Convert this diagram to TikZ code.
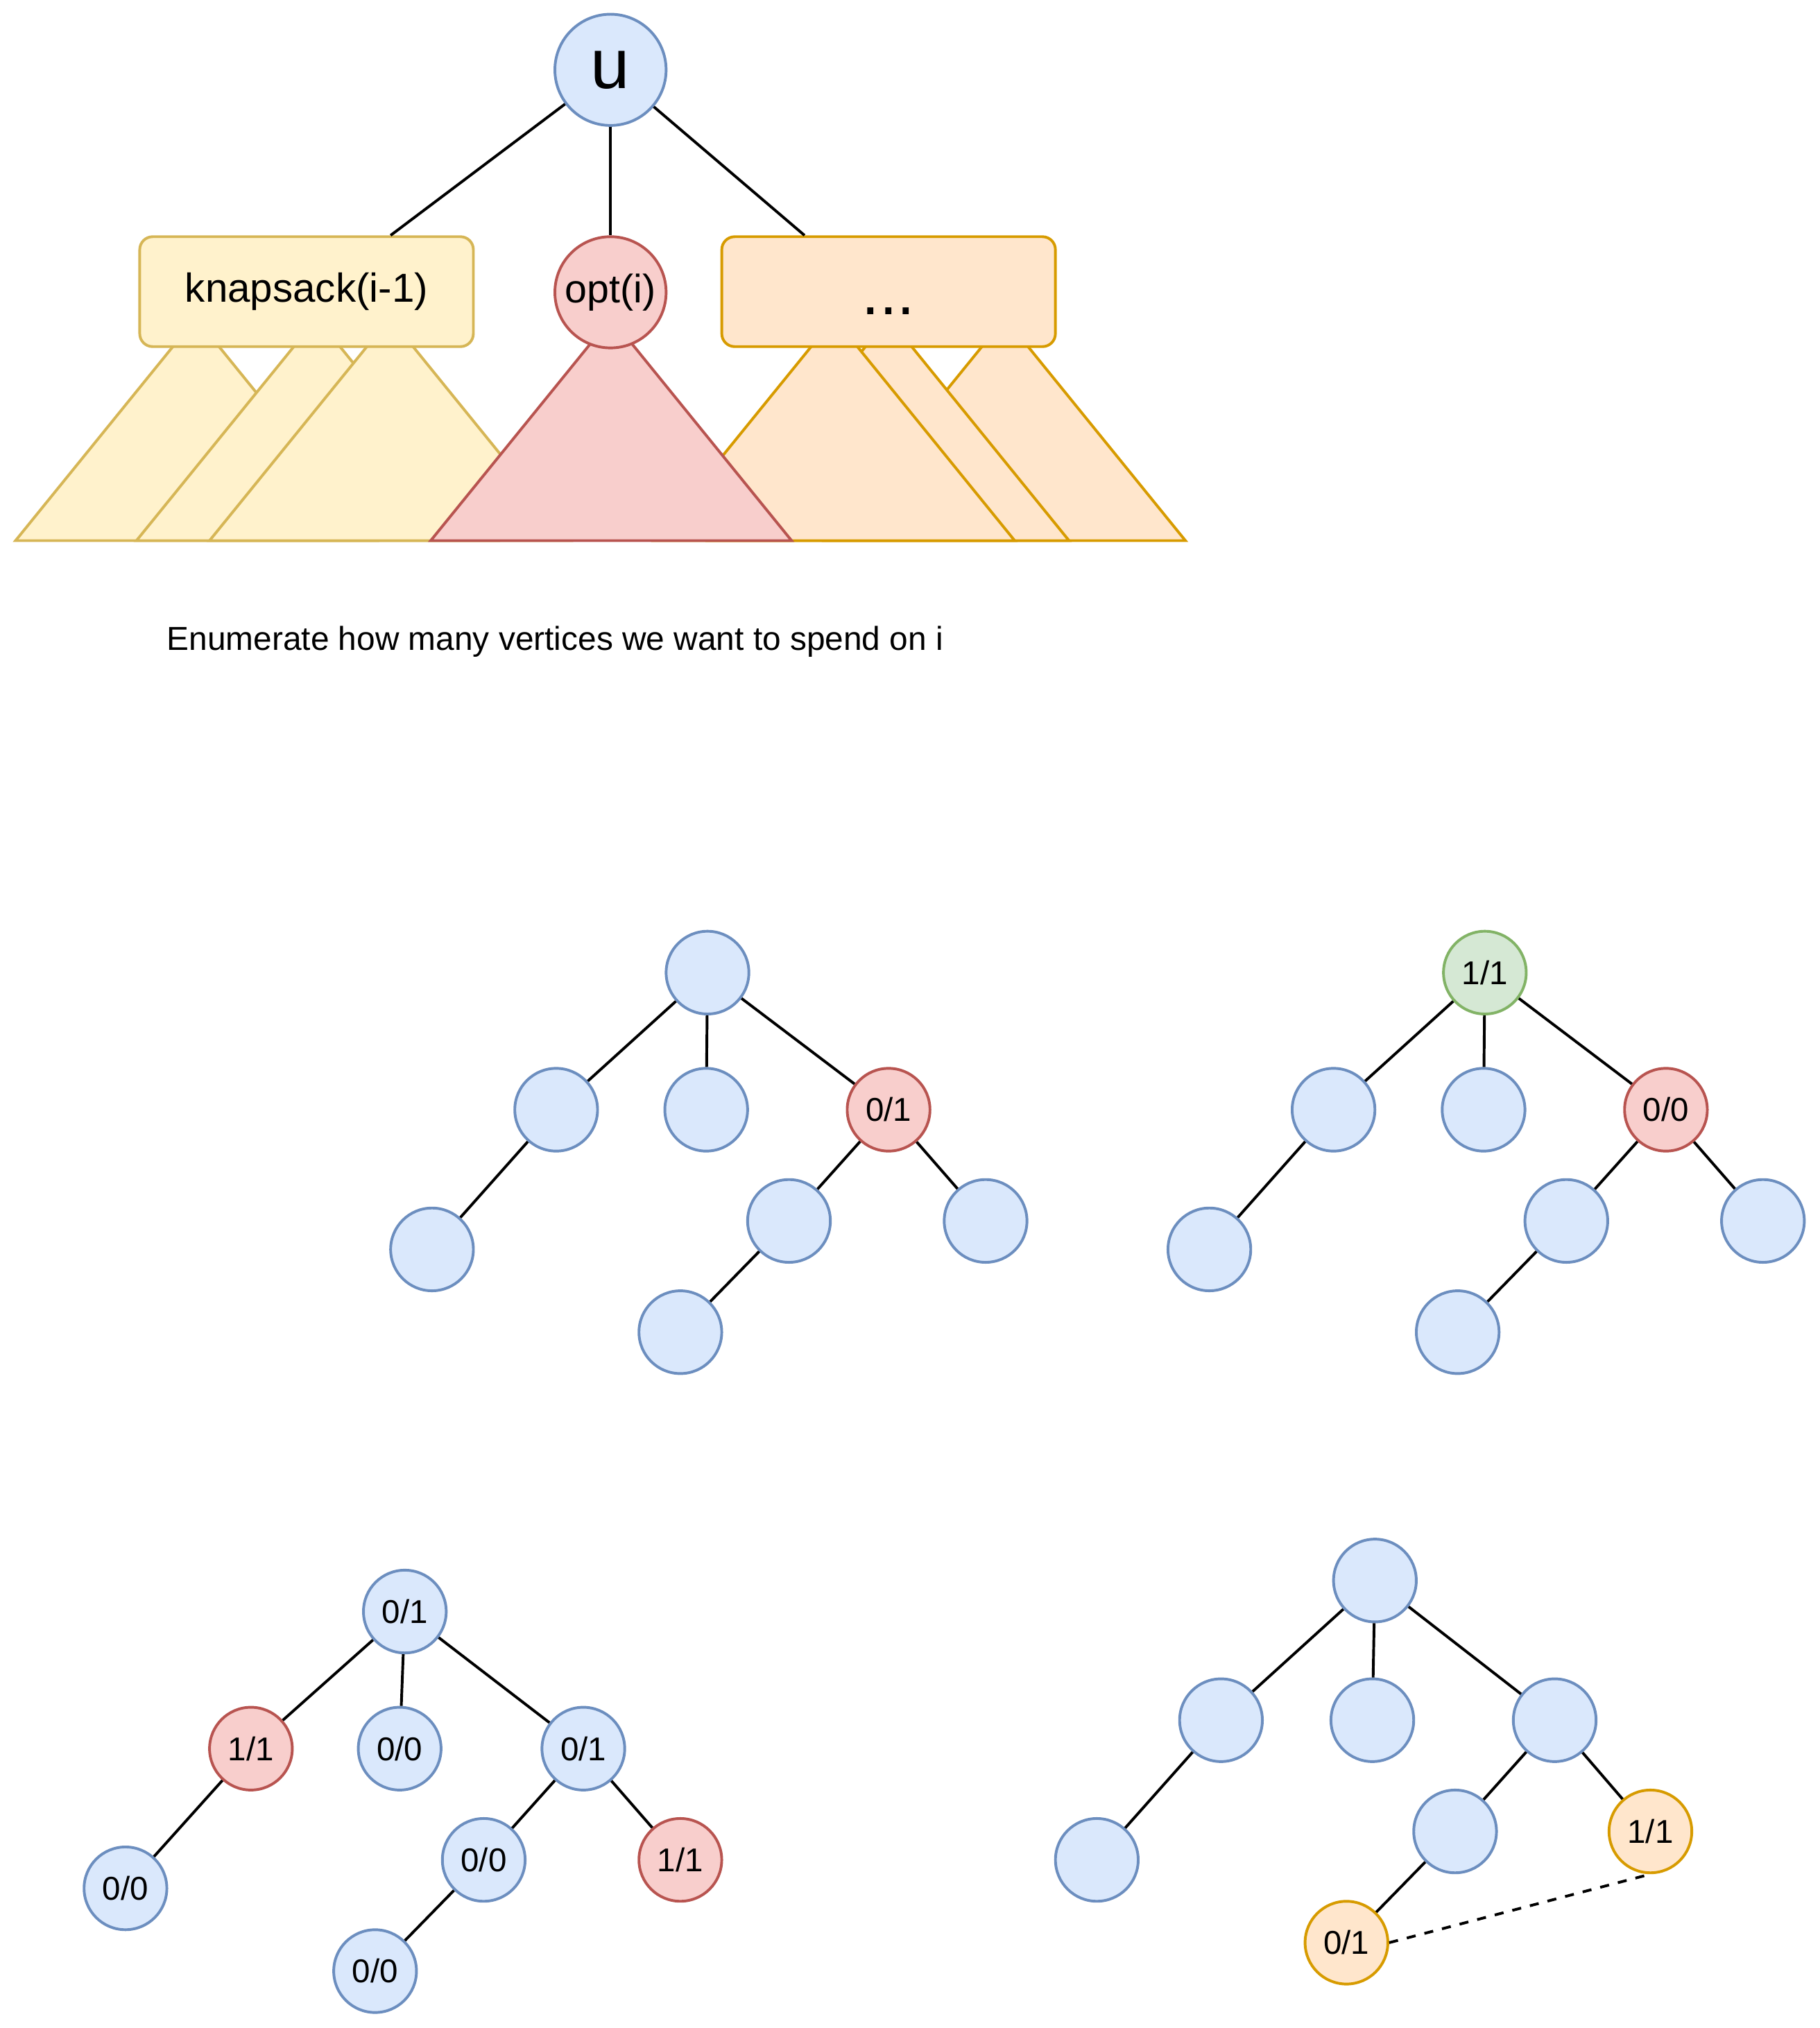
\documentclass[tikz,border=0pt]{standalone}
\usepackage{fontspec}
\setmainfont{Liberation Sans}
\usetikzlibrary{calc,positioning}
\definecolor{bfill}{HTML}{DAE8FC}
\definecolor{bline}{HTML}{6C8EBF}
\definecolor{rfill}{HTML}{F8CECC}
\definecolor{rline}{HTML}{B85450}
\definecolor{gfill}{HTML}{D5E8D4}
\definecolor{gline}{HTML}{82B366}
\definecolor{yfill}{HTML}{FFF2CC}
\definecolor{yline}{HTML}{D6B656}
\definecolor{ofill}{HTML}{FFE6CC}
\definecolor{oline}{HTML}{D79B00}

\begin{document}
\begin{tikzpicture}[x=0.02cm, y=-0.02cm, line width=1.2pt, lbl/.style={inner sep=0pt, font=\fontsize{14.6}{17}\selectfont}]
\useasboundingbox (0,0) rectangle (1407,1568);
\tikzstyle{vtx}=[circle, draw=bline, fill=bfill, minimum size=1.28cm, inner sep=0pt, font=\fontsize{14.5}{17}\selectfont]
\tikzstyle{rvtx}=[vtx, draw=rline, fill=rfill]
\tikzstyle{gvtx}=[vtx, draw=gline, fill=gfill]
\tikzstyle{ovtx}=[vtx, draw=oline, fill=ofill]
\tikzstyle{sub}=[rounded corners=0.2cm, minimum width=5.16cm, minimum height=1.7cm, inner sep=0pt]
\tikzstyle{ytri}=[draw=yline, fill=yfill]
\tikzstyle{otri}=[draw=oline, fill=ofill]
\tikzstyle{rtri}=[draw=rline, fill=rfill]

% subtrees under u
\foreach \x in {151.5,245,301.5}{
\draw[ytri] (\x,246) -- ++(-139.5,172) -- ++(279,0) -- cycle;
}
\foreach \x in {777,687,645}{
\draw[otri] (\x,246) -- ++(-139.5,172) -- ++(279,0) -- cycle;
}
\draw[rtri] (472.5,246) -- ++(-139.5,172) -- ++(279,0) -- cycle;

\node[vtx, minimum size=1.72cm, font=\fontsize{31}{33}\selectfont] (u) at (472,54){u};
\node[sub, draw=yline, fill=yfill, font=\fontsize{17.8}{20}\selectfont] (knap) at (237,225.5){knapsack(i-1)};
\node[rvtx, minimum size=1.72cm, font=\fontsize{17.5}{20}\selectfont] (opt) at (472,226){opt(i)};
\node[sub, draw=oline, fill=ofill, text height=20pt, text depth=0pt, font=\fontsize{28}{30}\selectfont] (rest) at (687,225.5){...};
\coordinate (kt) at ($(knap.north west)!0.75!(knap.north east)$);
\coordinate (rt) at ($(rest.north west)!0.25!(rest.north east)$);
\draw (u) -- (kt);
\draw (u) -- (opt);
\draw (u) -- (rt);

\node[lbl, anchor=west] (txt) at (128,496){Enumerate how many vertices we want to spend on i};

% four copies of the same tree
\node[vtx] (a0) at (547,752){};
\node[vtx] (a1) at (430,858){};
\node[vtx] (a2) at (546,858){};
\node[rvtx] (a3) at (687,858){0/1};
\node[vtx] (a4) at (334,966){};
\node[vtx] (a5) at (610,944){};
\node[vtx] (a6) at (762,944){};
\node[vtx] (a7) at (526,1030){};

\node[gvtx] (b0) at (1148,752){1/1};
\node[vtx] (b1) at (1031,858){};
\node[vtx] (b2) at (1147,858){};
\node[rvtx] (b3) at (1288,858){0/0};
\node[vtx] (b4) at (935,966){};
\node[vtx] (b5) at (1211,944){};
\node[vtx] (b6) at (1363,944){};
\node[vtx] (b7) at (1127,1030){};

\node[vtx] (c0) at (313,1246){0/1};
\node[rvtx] (c1) at (194,1352){1/1};
\node[vtx] (c2) at (309,1352){0/0};
\node[vtx] (c3) at (451,1352){0/1};
\node[vtx] (c4) at (97,1460){0/0};
\node[vtx] (c5) at (374,1438){0/0};
\node[rvtx] (c6) at (526,1438){1/1};
\node[vtx] (c7) at (290,1524){0/0};

\node[vtx] (d0) at (1063,1222){};
\node[vtx] (d1) at (944,1330){};
\node[vtx] (d2) at (1061,1330){};
\node[vtx] (d3) at (1202,1330){};
\node[vtx] (d4) at (848,1438){};
\node[vtx] (d5) at (1125,1416){};
\node[ovtx] (d6) at (1276,1416){1/1};
\node[ovtx] (d7) at (1041,1502){0/1};

\foreach \t in {a,b,c,d}{
\foreach \i/\j in {0/1, 0/2, 0/3, 1/4, 3/5, 3/6, 5/7}{
\draw (\t\i) -- (\t\j);
}
}
\draw[dash pattern=on 4pt off 4pt] (d7.east) -- (d6.south);
\end{tikzpicture}
\end{document}
